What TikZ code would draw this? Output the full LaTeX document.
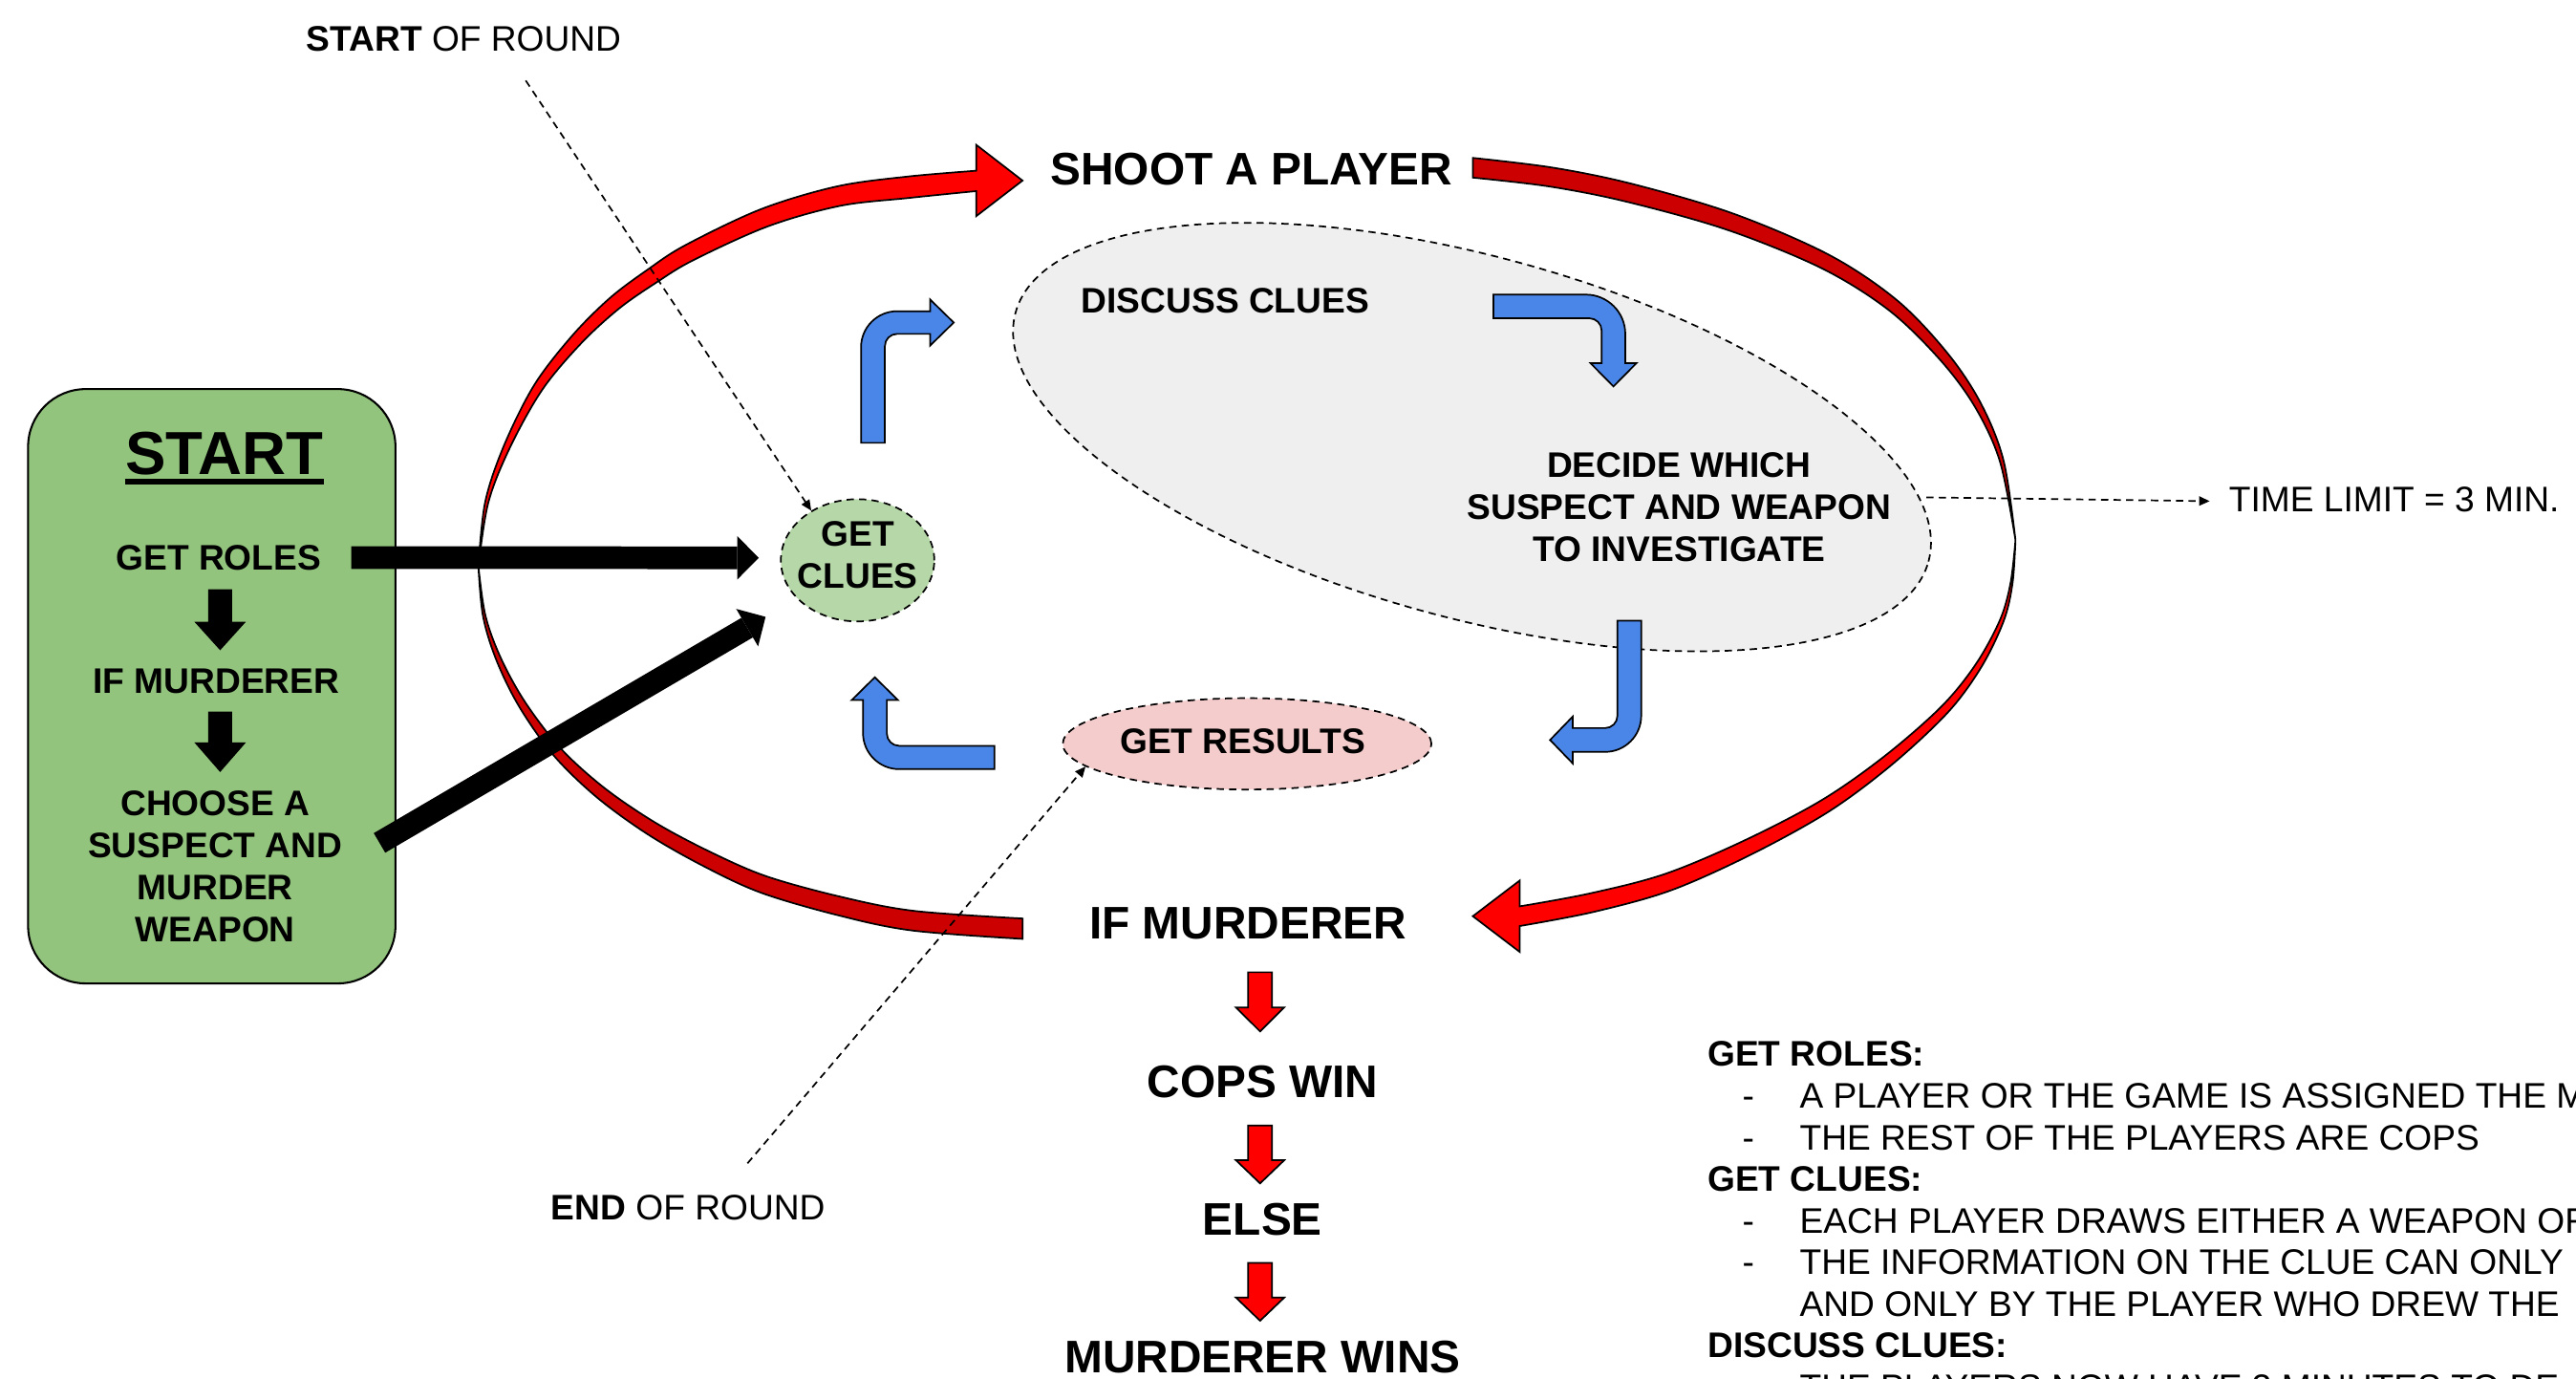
\documentclass[tikz,border=0pt]{standalone}
\usepackage{fontspec}
\setmainfont{Liberation Sans}
\usetikzlibrary{arrows.meta,shapes.geometric}
\definecolor{boxgreen}{HTML}{93C47D}
\definecolor{cluegreen}{HTML}{B6D7A8}
\definecolor{respink}{HTML}{F4CCCC}
\definecolor{discgrey}{HTML}{EFEFEF}
\definecolor{arrblue}{HTML}{4A86E8}
\definecolor{brightred}{HTML}{FF0000}
\definecolor{darkred}{HTML}{CC0000}
\newcommand\FSmall{\fontsize{10.8pt}{12.8pt}\selectfont}
\newcommand\FBig{\fontsize{13.9pt}{16pt}\selectfont\bfseries}
\newcommand\FTitle{\fontsize{18.5pt}{22pt}\selectfont\bfseries}
\newcommand\DownArr[7]{\filldraw[#1] ({#2-#6},{-#3}) -- ({#2+#6},{-#3}) -- ({#2+#6},{-#4}) -- ({#2+#7},{-#4}) -- (#2,{-#5}) -- ({#2-#7},{-#4}) -- ({#2-#6},{-#4}) -- cycle;}
\tikzset{
  shapeoutline/.style={draw=black, line width=0.5pt},
  bluearr/.style={shapeoutline, fill=arrblue},
  redbright/.style={shapeoutline, fill=brightred},
  reddark/.style={shapeoutline, fill=darkred},
  blackblock/.style={fill=black, draw=black, line width=0.3pt},
  dashborder/.style={draw=black, line width=0.5pt, dash pattern=on 2.2pt off 1.6pt},
  txts/.style={font=\FSmall, inner sep=0pt, outer sep=0pt},
  txtb/.style={font=\FSmall\bfseries, inner sep=0pt, outer sep=0pt, align=center},
  txtbig/.style={font=\FBig, inner sep=0pt, outer sep=0pt},
  dashconn/.style={line width=0.5pt, dash pattern=on 2.2pt off 1.6pt, -{Triangle[length=3.2pt,width=2.8pt]}},
  blackconn/.style={line width=6.9pt, -{Triangle[length=6.5pt,width=13.2pt,line width=0pt]}},
}
\begin{document}
\begin{tikzpicture}[x=0.5pt,y=0.5pt]
\clip (0,0) rectangle (1568,-839);
\fill[white] (0,0) rectangle (1568,-839);

% grey discussion area
\node[ellipse, fill=discgrey, dashborder, minimum width=288pt, minimum height=110pt, inner sep=0pt, rotate=-15.25] (discarea) at (896,-266) {};

% red loop: left arrow (bright upper part with head)
\filldraw[redbright] plot[smooth,tension=0.55] coordinates {(291.2,-344.7) (295.3,-305.6) (306.8,-271.1) (325.2,-234.3) (348.2,-204.4) (371.2,-181.4) (394.2,-164.1) (417.2,-149.2) (463.2,-127.3) (509.2,-113.5) (552,-107.5) (594.3,-103.9)}
  -- (594.3,-88.2) -- (622.4,-109.9) -- (594.3,-131.5) -- (594.3,-116.3)
  -- plot[smooth,tension=0.55] coordinates {(594.3,-116.3) (553,-120.5) (511.3,-125.3) (467.3,-137.8) (422.1,-158.3) (399.6,-171.9) (376.8,-187.8) (353.6,-209.1) (330,-237.3) (310.3,-272.6) (297.2,-306) (291.2,-344.7)} -- cycle;
% left arrow dark lower part (tail)
\filldraw[reddark] plot[smooth,tension=0.55] coordinates {(291.2,-344.7) (294,-375) (302.2,-401.9) (316,-430) (336.7,-459.4) (363,-485) (394.2,-507.7) (428,-527) (463.2,-543.3) (510,-557) (555.2,-566.3) (622.4,-571.4)}
  -- (622.4,-559)
  -- plot[smooth,tension=0.55] coordinates {(622.4,-559) (556.7,-554.4) (512.7,-546) (466.8,-533.4) (432.4,-518.5) (398.8,-500.6) (367.7,-479.4) (341.3,-455.5) (319.9,-427.7) (305,-400.8) (295.5,-374.7) (291.2,-344.7)} -- cycle;
% right arrow dark upper part (tail)
\filldraw[reddark] plot[smooth,tension=0.55] coordinates {(896.5,-96.1) (945,-102) (993,-111.8) (1055,-130) (1113.5,-155.2) (1155,-183) (1185.8,-215.4) (1206,-246) (1219.6,-280.5) (1226.8,-328.7)}
  -- plot[smooth,tension=0.55] coordinates {(1226.8,-328.7) (1217.4,-281.1) (1202.3,-247.9) (1181.1,-219.2) (1150,-189) (1109.1,-163.4) (1051.4,-139.9) (990.2,-122.8) (943.1,-113.5) (896.5,-108.1)} -- cycle;
% right arrow bright lower part with head
\filldraw[redbright] plot[smooth,tension=0.55] coordinates {(1226.8,-328.7) (1225,-355) (1219.6,-378) (1206,-406) (1185.8,-433.4) (1152,-465) (1113.5,-493.7) (1066,-520) (1017,-541.9) (970,-555) (925,-563.6)}
  -- (925,-579.3) -- (896.5,-557.6) -- (925,-535.9) -- (925,-551.6)
  -- plot[smooth,tension=0.55] coordinates {(925,-551.6) (967.4,-543.8) (1013.4,-531.9) (1061.8,-511.5) (1109.1,-486.8) (1147.6,-459.8) (1181.9,-429.8) (1202.8,-404) (1217.4,-377.2) (1223.8,-354.8) (1226.8,-328.7)} -- cycle;

% blue bent arrows
\filldraw[bluearr] (605.3,-453.9) -- (547.3,-453.9) arc[start angle=270, end angle=180, radius=7.5] -- (539.8,-426) -- (546.5,-426) -- (532.5,-412.2) -- (518.5,-426) -- (525.3,-426) -- (525.3,-446.1) arc[start angle=180, end angle=270, radius=22] -- (605.3,-468.1) -- cycle;
\filldraw[bluearr] (524.1,-269.5) -- (524.1,-211.4) arc[start angle=180, end angle=90, radius=22] -- (566.2,-189.4) -- (566.2,-182.3) -- (580.5,-196.3) -- (566.2,-210.3) -- (566.2,-203.2) -- (546.1,-203.2) arc[start angle=90, end angle=180, radius=7.5] -- (538.6,-269.5) -- cycle;
\filldraw[bluearr] (909,-179.3) -- (965.3,-179.3) arc[start angle=90, end angle=0, radius=24] -- (989.3,-221) -- (996.1,-221) -- (982.1,-235.2) -- (968.1,-221) -- (974.9,-221) -- (974.9,-201.2) arc[start angle=0, end angle=90, radius=7.5] -- (909,-193.7) -- cycle;
\filldraw[bluearr] (984.5,-377.7) -- (999,-377.7) -- (999,-435.6) arc[start angle=0, end angle=-90, radius=22] -- (957.3,-457.6) -- (957.3,-464.6) -- (943.5,-450.35) -- (957.3,-436.1) -- (957.3,-443.1) -- (977,-443.1) arc[start angle=-90, end angle=0, radius=7.5] -- cycle;

% ellipses
\node[ellipse, fill=cluegreen, dashborder, minimum width=46.7pt, minimum height=37.2pt, inner sep=0pt] (getclues) at (522,-341) {};
\node[ellipse, fill=respink, dashborder, minimum width=112.2pt, minimum height=27.8pt, inner sep=0pt] (getresults) at (759.1,-452.7) {};

% start box
\node[draw=black, line width=0.6pt, fill=boxgreen, rounded corners=17.5pt, minimum width=111.8pt, minimum height=180.85pt, inner sep=0pt] (startbox) at (128.9,-417.65) {};
\node[font=\FTitle, inner sep=0pt] (starttitle) at (136.7,-275.9) {START};
\draw[line width=1.95pt] ([yshift=-1.9pt]starttitle.south west) -- ([yshift=-1.9pt]starttitle.south east);
\node[txtb] (getroles) at (133,-339.3) {GET ROLES};
\node[txtb] (ifmbox) at (131.6,-414.7) {IF MURDERER};
\node[txtb] (choose) at (131,-527.2) {CHOOSE A\\SUSPECT AND\\MURDER\\WEAPON};
\DownArr{blackblock}{134}{359}{378.7}{395.3}{7}{15}
\DownArr{blackblock}{134}{433.4}{452.2}{469.4}{7}{15}

% texts in the loop
\node[txtb] (getcluestxt) at (522.1,-337.6) {GET\\CLUES};
\node[txtb] (getresultstxt) at (756.5,-451.1) {GET RESULTS};
\node[txtb] (discusstxt) at (745.8,-183.1) {DISCUSS CLUES};
\node[txtb] (decidetxt) at (1022.1,-308.8) {DECIDE WHICH\\SUSPECT AND WEAPON\\TO INVESTIGATE};

% big texts
\node[txtbig] (shoot) at (761.8,-103) {SHOOT A PLAYER};
\node[txtbig] (ifmurd) at (759.6,-562.2) {IF MURDERER};
\node[txtbig] (copswin) at (768.5,-658.6) {COPS WIN};
\node[txtbig] (elsetxt) at (768.5,-742.1) {ELSE};
\node[txtbig] (mwins) at (768.5,-825.7) {MURDERER WINS};
\DownArr{redbright}{767}{591.7}{613.1}{627.7}{7.3}{14.7}
\DownArr{redbright}{767}{685}{706.1}{720.2}{7.3}{14.7}
\DownArr{redbright}{767}{768.6}{789.7}{803.8}{7.3}{14.7}

% labels
\node[txts, anchor=west] (startround) at (186.5,-23.4) {{\bfseries START} OF ROUND};
\node[txts, anchor=west] (endround) at (335.4,-735.2) {{\bfseries END} OF ROUND};
\node[txts, anchor=west] (timelimit) at (1356.8,-304) {TIME LIMIT = 3 MIN.};

% notes
\node[txtb, anchor=base west] (nroles) at (1039.5,-648.5) {GET ROLES:};
\node[txts, anchor=base west] (nd1) at (1060.6,-674.4) {-};
\node[txts, anchor=base west] (nl1) at (1095.5,-674.4) {A PLAYER OR THE GAME IS ASSIGNED THE M};
\node[txts, anchor=base west] (nd2) at (1060.6,-699.7) {-};
\node[txts, anchor=base west] (nl2) at (1095.5,-699.7) {THE REST OF THE PLAYERS ARE COPS};
\node[txtb, anchor=base west] (nclues) at (1039.5,-725) {GET CLUES:};
\node[txts, anchor=base west] (nd3) at (1060.6,-750.3) {-};
\node[txts, anchor=base west] (nl3) at (1095.5,-750.3) {EACH PLAYER DRAWS EITHER A WEAPON OR};
\node[txts, anchor=base west] (nd4) at (1060.6,-775.6) {-};
\node[txts, anchor=base west] (nl4) at (1095.5,-775.6) {THE INFORMATION ON THE CLUE CAN ONLY};
\node[txts, anchor=base west] (nl5) at (1095.5,-800.9) {AND ONLY BY THE PLAYER WHO DREW THE};
\node[txtb, anchor=base west] (ndiscuss) at (1039.5,-826.2) {DISCUSS CLUES:};
\node[txts, anchor=base west] (nd6) at (1060.6,-851.5) {-};
\node[txts, anchor=base west] (nl6) at (1095.5,-851.5) {THE PLAYERS NOW HAVE 3 MINUTES TO DE};

% black connectors
\coordinate (choosefrom) at (231,-513);
\coordinate (cluesin) at (466,-375.4);
\draw[blackconn] ([xshift=9.2pt]getroles.east) -- ([xshift=-6.5pt,yshift=0.75pt]getclues.west);
\draw[blackconn] (choosefrom) -- (cluesin);

% dashed connectors
\coordinate (srfrom) at (320,-49);
\coordinate (erfrom) at (455,-708);
\coordinate (tlfrom) at (1172.5,-302.7);
\draw[dashconn] (srfrom) -- (getclues.133);
\draw[dashconn] (erfrom) -- (getresults.188);
\draw[dashconn] (tlfrom) -- ([xshift=-5.9pt,yshift=-0.5pt]timelimit.west);
\end{tikzpicture}
\end{document}
